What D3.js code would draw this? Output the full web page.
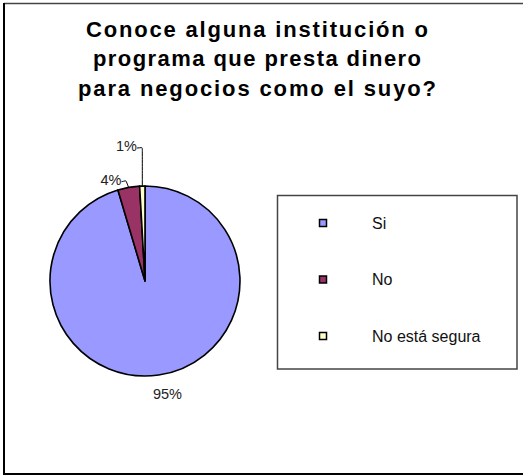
<!DOCTYPE html>
<html>
<head>
<meta charset="utf-8">
<script src="https://cdn.jsdelivr.net/npm/d3@7/dist/d3.min.js"></script>
<style>
  html, body { margin: 0; padding: 0; background: #fff; }
  svg { display: block; }
</style>
</head>
<body>
<svg id="chart" width="523" height="476"></svg>
<script>
// Survey answers: share of respondents (%)
const categories = ["Si", "No", "No está segura"];
const values = [95.4, 3.7, 0.9];
const colors = ["#9999FF", "#993366", "#FFFFCC"];
const titleLines = [
  "Conoce alguna institución o",
  "programa que presta dinero",
  "para negocios como el suyo?"
];

const svg = d3.select("#chart");
const font = "'Liberation Sans', Arial, sans-serif";

// Outer frame (right edge falls outside the visible area)
svg.append("line").attr("x1", 4).attr("y1", 3.5).attr("x2", 523).attr("y2", 3.5)
  .attr("stroke", "#444").attr("stroke-width", 1.5);
svg.append("line").attr("x1", 4).attr("y1", 3).attr("x2", 4).attr("y2", 475)
  .attr("stroke", "#000").attr("stroke-width", 2);
svg.append("line").attr("x1", 3).attr("y1", 474).attr("x2", 523).attr("y2", 474)
  .attr("stroke", "#000").attr("stroke-width", 2);

// Title
const titleWidths = [342, 328, 358];
svg.append("g").selectAll("text").data(titleLines).join("text")
  .attr("x", 257)
  .attr("y", (d, i) => 36.5 + i * 29.5)
  .attr("text-anchor", "middle")
  .attr("font-family", font)
  .attr("font-weight", "bold")
  .attr("font-size", 22)
  .attr("textLength", (d, i) => titleWidths[i])
  .attr("lengthAdjust", "spacing")
  .attr("fill", "#000")
  .text(d => d);

// Pie
const cx = 145, cy = 281, radius = 95;
const pie = d3.pie().sort(null).value(d => d)(values);
const arc = d3.arc().innerRadius(0).outerRadius(radius);

const gPie = svg.append("g").attr("transform", `translate(${cx},${cy})`);
gPie.selectAll("path").data(pie).join("path")
  .attr("d", arc)
  .attr("fill", (d, i) => colors[i])
  .attr("stroke", "#000")
  .attr("stroke-width", 1.6)
  .attr("stroke-linejoin", "round");

// Percentage labels: large slice labelled directly, small slices via leader lines
const midAngle = d => (d.startAngle + d.endAngle) / 2;
const edgePoint = (d, r) => [Math.sin(midAngle(d)) * r, -Math.cos(midAngle(d)) * r];
const fmt = v => Math.round(v) + "%";
// leader elbow offsets from the slice edge, and label offset from the elbow
const leaders = [null, { elbow: [-2.7, -6.7], end: [-4.5, 1] }, { elbow: [0, -38.5], end: [-5.3, 0.5] }];

const gLab = svg.append("g").attr("transform", `translate(${cx},${cy})`)
  .attr("font-family", font).attr("font-size", 14.5).attr("fill", "#222");

pie.forEach((d, i) => {
  const label = fmt(values[i]);
  const ld = leaders[i];
  if (!ld) {
    const [x, y] = edgePoint(d, radius + 16);
    gLab.append("text").attr("x", x + 6.5).attr("y", y + 8)
      .attr("text-anchor", "middle").text(label);
    return;
  }
  const p0 = edgePoint(d, radius);
  const p1 = [p0[0] + ld.elbow[0], p0[1] + ld.elbow[1]];
  const p2 = [p1[0] + ld.end[0], p1[1] + ld.end[1]];
  gLab.append("path")
    .attr("d", d3.line().curve(d3.curveBasis)([p0, p1, p1, p2]))
    .attr("fill", "none").attr("stroke", "#000").attr("stroke-width", 1);
  gLab.append("text").attr("x", p2[0]).attr("y", p2[1] + 3)
    .attr("text-anchor", "end").text(label);
});

// Legend
const legend = svg.append("g");
legend.append("rect")
  .attr("x", 277.5).attr("y", 195.5).attr("width", 239.5).attr("height", 173.5)
  .attr("fill", "#fff").attr("stroke", "#444").attr("stroke-width", 1.5);

const legendY = d3.scalePoint().domain(categories).range([223, 336]);
const items = legend.selectAll("g.item").data(categories).join("g")
  .attr("class", "item")
  .attr("transform", d => `translate(0,${legendY(d)})`);
items.append("rect")
  .attr("x", 319.5).attr("y", -3.5).attr("width", 7).attr("height", 7)
  .attr("fill", (d, i) => colors[i])
  .attr("stroke", "#000").attr("stroke-width", 1.5);
items.append("text")
  .attr("x", 372).attr("y", 5.8)
  .attr("font-family", font).attr("font-size", 16)
  .attr("fill", "#111")
  .text(d => d);
</script>
</body>
</html>
